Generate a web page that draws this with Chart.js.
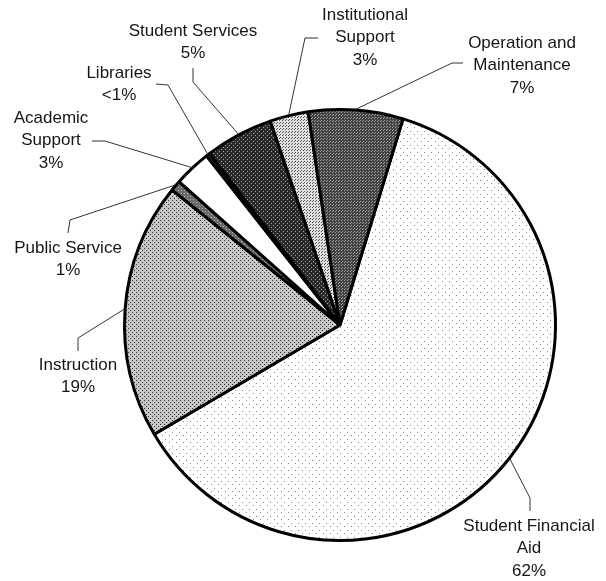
<!DOCTYPE html>
<html lang="en">
<head>
  <meta charset="UTF-8" />
  <title>Expenditures by Function</title>
  <script src="https://cdn.jsdelivr.net/npm/chart.js"></script>
  <style>
    html, body { margin: 0; padding: 0; background: #fff; }
    #wrap { width: 606px; height: 581px; }
  </style>
</head>
<body>
  <div id="wrap"><canvas id="pie" width="606" height="581"></canvas></div>

  <script>
    // slices, clockwise from the right edge of Operation and Maintenance
    const categories = ['Student Financial Aid', 'Instruction', 'Public Service', 'Academic Support',
                        'Libraries', 'Student Services', 'Institutional Support', 'Operation and Maintenance'];
    const shares = [62, 19.3, 0.8, 2.8, 0.3, 5.1, 2.9, 7.1];
    const shareLabels = ['62%', '19%', '1%', '3%', '<1%', '5%', '3%', '7%'];
    const labelLines = [['Student Financial', 'Aid'], ['Instruction'], ['Public Service'], ['Academic', 'Support'],
                        ['Libraries'], ['Student Services'], ['Institutional', 'Support'], ['Operation and', 'Maintenance']];

    // callout placement: text centre of first line, bend and end of the leader line
    const callouts = [
      { x: 529, y: 526, bend: [530, 498], end: [530, 511] },
      { x: 78,  y: 365, bend: [78, 338],  end: [78, 351] },
      { x: 68,  y: 248, bend: [70, 220],  end: [68, 233] },
      { x: 51,  y: 118, bend: [105, 141], end: [92, 141] },
      { x: 119, y: 73,  bend: [168, 85],  end: [156, 84] },
      { x: 193, y: 31,  bend: [193, 82],  end: [193, 68] },
      { x: 365, y: 15,  bend: [305, 38],  end: [318, 38] },
      { x: 522, y: 43,  bend: [452, 63],  end: [463, 63] }
    ];

    const ctx = document.getElementById('pie').getContext('2d');

    // little dot screens, like the halftone fills in the print
    const stipple = (bg, ink, size, dots) => {
      const c = document.createElement('canvas');
      c.width = c.height = size;
      const g = c.getContext('2d');
      g.fillStyle = bg;
      g.fillRect(0, 0, size, size);
      g.fillStyle = ink;
      dots.forEach(([x, y]) => g.fillRect(x, y, 1, 1));
      return ctx.createPattern(c, 'repeat');
    };

    const fills = [
      stipple('#ffffff', '#8a8a8a', 7, [[1, 1], [4, 5]]),
      stipple('#c8c8c8', '#2a2a2a', 4, [[0, 0], [2, 2]]),
      stipple('#6a6a6a', '#b0b0b0', 3, [[1, 1]]),
      '#ffffff',
      '#222222',
      stipple('#2a2a2a', '#a0a0a0', 4, [[1, 1], [3, 3]]),
      stipple('#e0e0e0', '#555555', 3, [[0, 0], [1, 2]]),
      stipple('#424242', '#a0a0a0', 3, [[0, 0], [2, 1]])
    ];

    const callout = {
      id: 'callout',
      afterDraw(chart) {
        const c = chart.ctx;
        const arcs = chart.getDatasetMeta(0).data;
        c.save();
        c.strokeStyle = '#333';
        c.lineWidth = 1;
        c.fillStyle = '#161616';
        c.font = '17px "Liberation Sans", Arial, sans-serif';
        c.textAlign = 'center';
        c.textBaseline = 'middle';
        arcs.forEach((arc, i) => {
          const { x, y, startAngle, endAngle, outerRadius } = arc.getProps(['x', 'y', 'startAngle', 'endAngle', 'outerRadius'], true);
          const mid = (startAngle + endAngle) / 2;
          const r = outerRadius + 1;
          const p = callouts[i];
          c.beginPath();
          c.moveTo(x + r * Math.cos(mid), y + r * Math.sin(mid));
          c.lineTo(p.bend[0], p.bend[1]);
          c.lineTo(p.end[0], p.end[1]);
          c.stroke();
          const lines = labelLines[i].concat(shareLabels[i]);
          lines.forEach((t, k) => c.fillText(t, p.x, p.y + k * 22.5));
        });
        c.restore();
      }
    };

    new Chart(ctx, {
      type: 'pie',
      data: {
        labels: categories,
        datasets: [{
          data: shares,
          backgroundColor: fills,
          borderColor: '#000',
          borderWidth: 3
        }]
      },
      options: {
        responsive: false,
        animation: false,
        rotation: 17,
        layout: { padding: { left: 122, right: 48, top: 108, bottom: 39 } },
        plugins: {
          legend: { display: false },
          tooltip: { enabled: false }
        }
      },
      plugins: [callout]
    });
  </script>
</body>
</html>
